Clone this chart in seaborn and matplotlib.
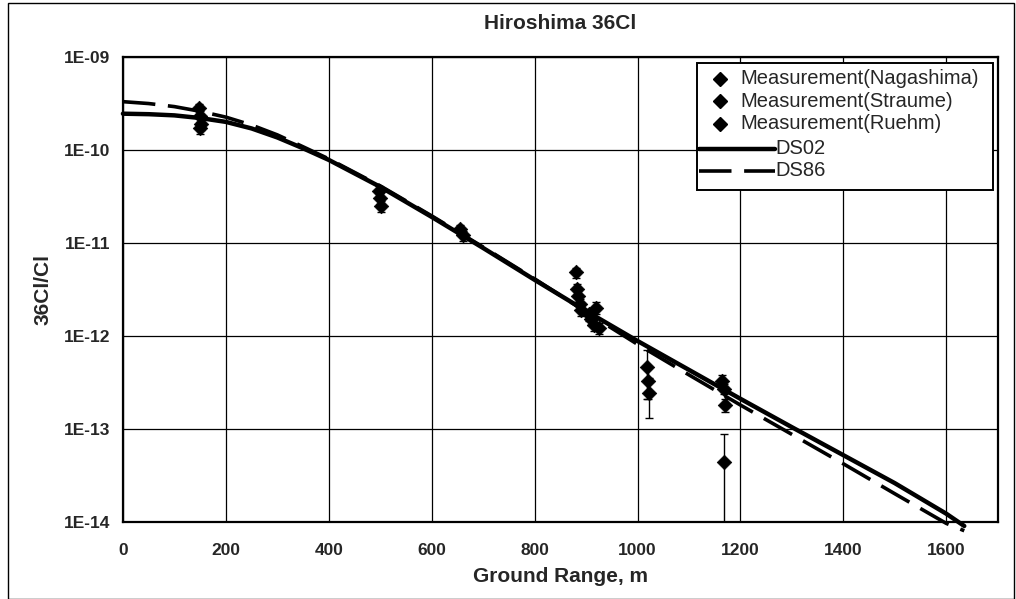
import matplotlib
matplotlib.use("Agg")
import matplotlib.pyplot as plt
from matplotlib.patches import Rectangle
import seaborn as sns
import pandas as pd

# Calculated 36Cl/Cl ratio versus ground range
calc_range = [0, 50, 100, 150, 200, 250, 300, 350, 400, 500, 600, 700, 800,
              900, 1000, 1100, 1200, 1300, 1400, 1500, 1600, 1635]
ds02 = [2.45e-10, 2.42e-10, 2.35e-10, 2.2e-10, 2.0e-10, 1.7e-10, 1.36e-10,
        1.04e-10, 7.8e-11, 4.0e-11, 1.9e-11, 8.8e-12, 4.0e-12, 1.85e-12,
        8.8e-13, 4.3e-13, 2.1e-13, 1.04e-13, 5.2e-14, 2.6e-14, 1.22e-14,
        9.0e-15]
ds86 = [3.3e-10, 3.15e-10, 2.92e-10, 2.6e-10, 2.25e-10, 1.85e-10, 1.45e-10,
        1.08e-10, 8.0e-11, 4.1e-11, 1.95e-11, 9.0e-12, 4.1e-12, 1.8e-12,
        8.1e-13, 3.8e-13, 1.8e-13, 8.7e-14, 4.2e-14, 2.0e-14, 9.6e-15,
        8.0e-15]

# Measurements (range m, ratio, one-sigma error)
nag_x = [148, 150, 152, 150, 497, 500, 502, 655, 660, 1165, 1168, 1170]
nag_y = [2.8e-10, 2.3e-10, 1.9e-10, 1.7e-10, 3.6e-11, 3.0e-11, 2.5e-11,
         1.4e-11, 1.2e-11, 3.3e-13, 2.7e-13, 1.8e-13]
nag_e = [3.5e-11, 3.0e-11, 2.5e-11, 2.2e-11, 4.5e-12, 4.0e-12, 3.5e-12,
         1.6e-12, 1.5e-12, 4.5e-14, 3.5e-14, 3.0e-14]

str_x = [880, 882, 885, 888, 890, 905, 910, 915, 920, 925]
str_y = [4.8e-12, 3.2e-12, 2.7e-12, 2.2e-12, 1.9e-12, 1.7e-12, 1.5e-12,
         1.3e-12, 2.0e-12, 1.2e-12]
str_e = [6.0e-13, 4.5e-13, 4.0e-13, 3.0e-13, 2.5e-13, 2.5e-13, 2.0e-13,
         1.8e-13, 3.0e-13, 1.6e-13]

rue_x = [1018, 1020, 1022, 1168]
rue_y = [4.6e-13, 3.3e-13, 2.4e-13, 4.4e-14]
rue_e = [2.5e-13, 1.2e-13, 1.1e-13, 4.35e-14]

x_ticks = [0, 200, 400, 600, 800, 1000, 1200, 1400, 1600]
y_ticks = [1e-14, 1e-13, 1e-12, 1e-11, 1e-10, 1e-9]
y_tick_labels = ["1E-14", "1E-13", "1E-12", "1E-11", "1E-10", "1E-09"]

legend_labels = ["Measurement(Nagashima)", "Measurement(Straume)",
                 "Measurement(Ruehm)", "DS02", "DS86"]

sns.set_theme(style="white")
plt.rcParams["font.family"] = ["Liberation Sans", "DejaVu Sans"]

fig = plt.figure(figsize=(10.16, 5.99), dpi=100)
ax = fig.add_axes([0.121, 0.129, 0.861, 0.776])

DASH = [9, 3.5]

calc = pd.DataFrame({"range": calc_range, "DS02": ds02, "DS86": ds86})
sns.lineplot(data=calc, x="range", y="DS02", ax=ax, color="black",
             linewidth=3.2, clip_on=False, zorder=4)
sns.lineplot(data=calc, x="range", y="DS86", ax=ax, color="black",
             linewidth=2.6, clip_on=False, zorder=4)
ax.lines[-1].set_dashes(DASH)

for xs, ys, es in [(nag_x, nag_y, nag_e), (str_x, str_y, str_e),
                   (rue_x, rue_y, rue_e)]:
    ax.errorbar(xs, ys, yerr=es, fmt="none", ecolor="black",
                elinewidth=1.0, capsize=3, capthick=1.0, zorder=5)
    sns.scatterplot(x=xs, y=ys, ax=ax, marker="D", s=55, color="black",
                    edgecolor="black", linewidth=0.5, zorder=6)

ax.set_yscale("log")
ax.set_xlim(0, 1700)
ax.set_ylim(1e-14, 1e-9)
ax.set_xticks(x_ticks)
ax.set_yticks(y_ticks)
ax.set_yticklabels(y_tick_labels)
ax.yaxis.set_minor_locator(matplotlib.ticker.NullLocator())
ax.grid(True, which="major", color="black", linewidth=0.9)
ax.set_axisbelow(True)
for s in ax.spines.values():
    s.set_color("black")
    s.set_linewidth(1.6)
ax.tick_params(axis="both", which="major", direction="inout", length=6,
               width=1, color="black", labelsize=12.5, pad=6)
ax.tick_params(axis="x", pad=12)
for lbl in ax.get_xticklabels() + ax.get_yticklabels():
    lbl.set_fontweight("bold")

ax.set_xlabel("Ground Range, m", fontsize=15, fontweight="bold", labelpad=7)
ax.set_ylabel("36Cl/Cl", fontsize=15, fontweight="bold", labelpad=8)
ax.set_title("Hiroshima 36Cl", fontsize=15, fontweight="bold", pad=20)

# Legend box: marker rows sit close to their text, line rows use long keys
T = ax.transAxes
ax.add_patch(Rectangle((0.656, 0.714), 0.339, 0.273, transform=T,
                       facecolor="white", edgecolor="black", linewidth=1.4,
                       zorder=10, clip_on=False))
row_y = [0.953, 0.905, 0.856, 0.802, 0.755]
for i in range(3):
    ax.plot([0.683], [row_y[i]], transform=T, marker="D", markersize=7,
            color="black", linestyle="none", zorder=11, clip_on=False)
    ax.text(0.706, row_y[i], legend_labels[i], transform=T, fontsize=14.5,
            va="center", ha="left", zorder=11)
ax.plot([0.659, 0.745], [row_y[3]] * 2, transform=T, color="black",
        linewidth=3.2, zorder=11, clip_on=False)
dl, = ax.plot([0.659, 0.745], [row_y[4]] * 2, transform=T, color="black",
              linewidth=2.6, zorder=11, clip_on=False)
dl.set_dashes(DASH)
for i in (3, 4):
    ax.text(0.746, row_y[i], legend_labels[i], transform=T, fontsize=14.5,
            va="center", ha="left", zorder=11)

# Chart area border
fig.patches.append(Rectangle((0.008, 0.0), 0.99, 0.995, transform=fig.transFigure,
                             fill=False, edgecolor="black", linewidth=1.0))

fig.savefig("out.png", dpi=100, facecolor="white")
